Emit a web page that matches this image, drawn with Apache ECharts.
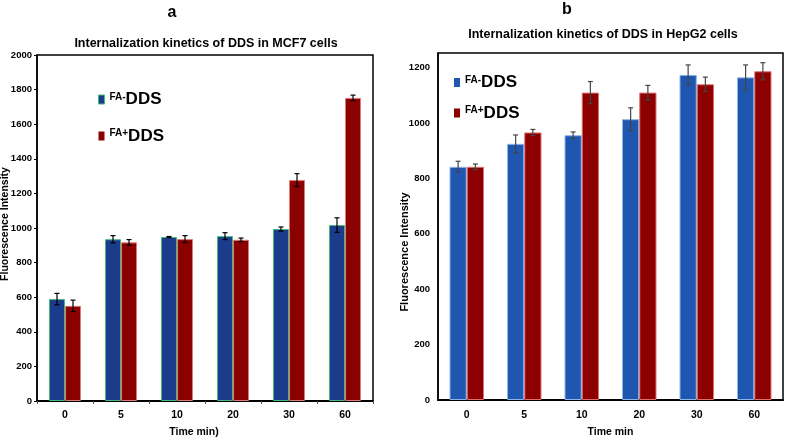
<!DOCTYPE html>
<html>
<head>
<meta charset="utf-8">
<script src="https://cdn.jsdelivr.net/npm/echarts@6/dist/echarts.min.js"></script>
<style>html,body{margin:0;padding:0;background:#fff;}#c{width:787px;height:443px;}</style>
</head>
<body>
<div id="c"></div>
<script>
// ---- data ----
var categories = ['0', '5', '10', '20', '30', '60'];
var seriesNames = ['FA-DDS', 'FA+DDS'];
// Panel a: MCF7
var mcf7Minus    = [589, 935, 948, 953, 994, 1017];
var mcf7MinusErr = [33, 21, 3, 20, 12, 42];
var mcf7Plus     = [550, 917, 936, 932, 1277, 1752];
var mcf7PlusErr  = [33, 16, 20, 10, 37, 16];
// Panel b: HepG2
var hepMinus     = [842, 925, 956, 1014, 1174, 1165];
var hepMinusErr  = [20, 32, 12, 41, 36, 45];
var hepPlus      = [842, 966, 1110, 1110, 1140, 1187];
var hepPlusErr   = [10, 11, 40, 26, 26, 31];
var yTicksA = [0, 200, 400, 600, 800, 1000, 1200, 1400, 1600, 1800, 2000];
var yTicksB = [0, 200, 400, 600, 800, 1000, 1200];

var SANS = '"Liberation Sans", Arial, sans-serif';
var BAR_A = 0.286, BAR_B = 0.30;

function errData(vals, errs) {
  return vals.map(function (v, i) { return [i, v, errs[i]]; });
}
function errRender(sign, frac, color, capHalf) {
  return function (params, api) {
    var idx = api.value(0), v = api.value(1), e = api.value(2);
    var hi = api.coord([idx, v + e]);
    var lo = api.coord([idx, v - e]);
    var band = api.size([1, 0])[0];
    var cx = hi[0] + sign * band * frac / 2;
    var st = { stroke: color, lineWidth: 1.2 };
    return {
      type: 'group',
      children: [
        { type: 'line', shape: { x1: cx, y1: hi[1], x2: cx, y2: lo[1] }, style: st },
        { type: 'line', shape: { x1: cx - capHalf, y1: hi[1], x2: cx + capHalf, y2: hi[1] }, style: st },
        { type: 'line', shape: { x1: cx - capHalf, y1: lo[1], x2: cx + capHalf, y2: lo[1] }, style: st }
      ]
    };
  };
}
function legendFormatter(n) { return '{s|' + n.slice(0, 3) + '}{b|' + n.slice(3) + '}'; }
function plainNum(v) { return String(v); }
var legendRich = {
  s: { fontSize: 10, fontWeight: 'bold', fontFamily: SANS, color: '#000', padding: [0, 0, 5, 0], lineHeight: 12 },
  b: { fontSize: 17, fontWeight: 'bold', fontFamily: SANS, color: '#000', lineHeight: 20 }
};

var colA = { blue: '#1b3b8b', blueB: '#45b87a', red: '#8b0000', redB: '#e07a7a' };
var colB = { blue: '#1f56b0', blueB: '#8fb4e8', red: '#8c0000', redB: '#e07070' };

var option = {
  animation: false,
  backgroundColor: '#fff',
  grid: [
    { left: 37, right: 414, top: 55, bottom: 42, show: true, borderColor: '#000', borderWidth: 1.5, backgroundColor: 'transparent' },
    { left: 438, right: 4, top: 53, bottom: 41, show: true, borderColor: '#000', borderWidth: 1.5, backgroundColor: 'transparent' }
  ],
  legend: [
    {
      left: 93, top: 86, orient: 'vertical', itemWidth: 6, itemHeight: 9, itemGap: 19.5,
      selectedMode: false, formatter: legendFormatter, textStyle: { rich: legendRich },
      data: [
        { name: seriesNames[0], icon: 'rect', itemStyle: { color: colA.blue, borderColor: colA.blueB, borderWidth: 1 } },
        { name: seriesNames[1], icon: 'rect', itemStyle: { color: colA.red, borderColor: colA.red, borderWidth: 0 } }
      ]
    },
    {
      left: 449, top: 69, orient: 'vertical', itemWidth: 6, itemHeight: 9, itemGap: 13.5,
      selectedMode: false, formatter: legendFormatter, textStyle: { rich: legendRich },
      data: [
        { name: seriesNames[0], icon: 'rect', itemStyle: { color: colB.blue, borderColor: colB.blue, borderWidth: 0 } },
        { name: seriesNames[1], icon: 'rect', itemStyle: { color: colB.red, borderColor: colB.red, borderWidth: 0 } }
      ]
    }
  ],
  xAxis: [
    {
      type: 'category', gridIndex: 0, data: categories,
      name: 'Time min)', nameLocation: 'middle', nameGap: 26,
      nameTextStyle: { fontFamily: SANS, fontWeight: 'bold', fontSize: 10.5, color: '#000', padding: [0, 22, 0, 0] },
      axisLine: { lineStyle: { color: '#000', width: 2 } },
      axisTick: { show: true, length: 3, lineStyle: { color: '#555' } },
      axisLabel: { fontFamily: SANS, fontWeight: 'bold', fontSize: 10.5, color: '#000', margin: 9 }
    },
    {
      type: 'category', gridIndex: 1, data: categories,
      name: 'Time min', nameLocation: 'middle', nameGap: 27,
      nameTextStyle: { fontFamily: SANS, fontWeight: 'bold', fontSize: 10.5, color: '#000' },
      axisLine: { lineStyle: { color: '#000', width: 2 } },
      axisTick: { show: false },
      axisLabel: { fontFamily: SANS, fontWeight: 'bold', fontSize: 10.5, color: '#000', margin: 10 }
    }
  ],
  yAxis: [
    {
      type: 'value', gridIndex: 0, min: yTicksA[0], max: yTicksA[yTicksA.length - 1], interval: 200,
      axisLine: { show: true, lineStyle: { color: '#000', width: 1.5 } },
      axisTick: { show: true, length: 3, lineStyle: { color: '#000' } },
      splitLine: { show: false },
      axisLabel: { fontFamily: SANS, fontWeight: 'bold', fontSize: 9.5, color: '#000', margin: 5, formatter: plainNum }
    },
    {
      type: 'value', gridIndex: 1, min: yTicksB[0], max: 1253, interval: 200,
      axisLine: { show: true, lineStyle: { color: '#000', width: 1.5 } },
      axisTick: { show: false },
      splitLine: { show: false },
      axisLabel: { fontFamily: SANS, fontWeight: 'bold', fontSize: 9.5, color: '#000', margin: 8,
        showMaxLabel: false, formatter: plainNum }
    }
  ],
  graphic: [
    { type: 'text', x: 172, y: 13, style: { text: 'a', font: 'bold 16px ' + SANS, fill: '#000', textAlign: 'center', textVerticalAlign: 'middle' } },
    { type: 'text', x: 567, y: 10, style: { text: 'b', font: 'bold 16px ' + SANS, fill: '#000', textAlign: 'center', textVerticalAlign: 'middle' } },
    { type: 'text', x: 206, y: 44, style: { text: 'Internalization kinetics of DDS in MCF7 cells', font: 'bold 12.5px ' + SANS, fill: '#000', textAlign: 'center', textVerticalAlign: 'middle' } },
    { type: 'text', x: 603, y: 35, style: { text: 'Internalization kinetics of DDS in HepG2 cells', font: 'bold 12.5px ' + SANS, fill: '#000', textAlign: 'center', textVerticalAlign: 'middle' } },
    { type: 'text', x: 5, y: 224, rotation: Math.PI / 2, style: { text: 'Fluorescence Intensity', font: 'bold 10.5px ' + SANS, fill: '#000', textAlign: 'center', textVerticalAlign: 'middle' } },
    { type: 'text', x: 405, y: 252, rotation: Math.PI / 2, style: { text: 'Fluorescence Intensity', font: 'bold 11px ' + SANS, fill: '#000', textAlign: 'center', textVerticalAlign: 'middle' } }
  ],
  series: [
    { name: seriesNames[0], type: 'bar', xAxisIndex: 0, yAxisIndex: 0, data: mcf7Minus, barWidth: (BAR_A * 100) + '%', barGap: '0%',
      itemStyle: { color: colA.blue, borderColor: colA.blueB, borderWidth: 1 } },
    { name: seriesNames[1], type: 'bar', xAxisIndex: 0, yAxisIndex: 0, data: mcf7Plus, barWidth: (BAR_A * 100) + '%', barGap: '0%',
      itemStyle: { color: colA.red, borderColor: colA.redB, borderWidth: 1 } },
    { name: seriesNames[0], type: 'bar', xAxisIndex: 1, yAxisIndex: 1, data: hepMinus, barWidth: (BAR_B * 100) + '%', barGap: '0%',
      itemStyle: { color: colB.blue, borderColor: colB.blueB, borderWidth: 1 } },
    { name: seriesNames[1], type: 'bar', xAxisIndex: 1, yAxisIndex: 1, data: hepPlus, barWidth: (BAR_B * 100) + '%', barGap: '0%',
      itemStyle: { color: colB.red, borderColor: colB.redB, borderWidth: 1 } },
    { type: 'custom', name: 'errA1', xAxisIndex: 0, yAxisIndex: 0, z: 10, data: errData(mcf7Minus, mcf7MinusErr), renderItem: errRender(-1, BAR_A, '#000', 2.5) },
    { type: 'custom', name: 'errA2', xAxisIndex: 0, yAxisIndex: 0, z: 10, data: errData(mcf7Plus, mcf7PlusErr), renderItem: errRender(1, BAR_A, '#000', 2.5) },
    { type: 'custom', name: 'errB1', xAxisIndex: 1, yAxisIndex: 1, z: 10, data: errData(hepMinus, hepMinusErr), renderItem: errRender(-1, BAR_B, '#444', 2.5) },
    { type: 'custom', name: 'errB2', xAxisIndex: 1, yAxisIndex: 1, z: 10, data: errData(hepPlus, hepPlusErr), renderItem: errRender(1, BAR_B, '#444', 2.5) }
  ]
};
var chart = echarts.init(document.getElementById('c'), null, { renderer: 'canvas' });
chart.setOption(option);
</script>
</body>
</html>
